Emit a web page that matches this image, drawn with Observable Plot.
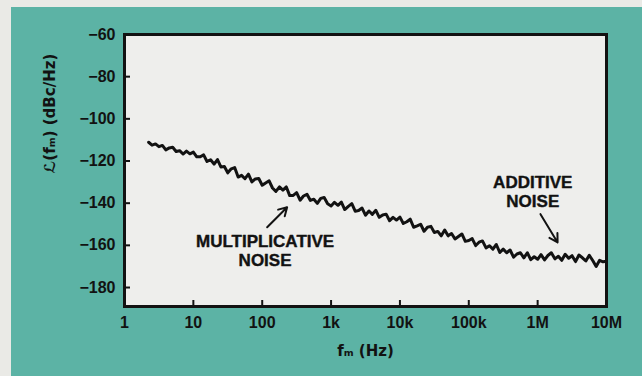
<!DOCTYPE html>
<html>
<head>
<meta charset="utf-8">
<script src="https://cdn.jsdelivr.net/npm/d3@7"></script>
<script src="https://cdn.jsdelivr.net/npm/@observablehq/plot@0.6"></script>
<style>
  html, body { margin: 0; padding: 0; background: #eaeae6; width: 642px; height: 376px; overflow: hidden; }
  #panel { position: absolute; left: 11px; top: 7px; width: 631px; height: 369px; background: #5cb3a5; }
  #chart { position: absolute; left: 0; top: 0; }
</style>
</head>
<body>
<div id="panel"></div>
<div id="chart"></div>
<script>
// Offset frequency (Hz)
const freqHz = [
  2.24,2.51,2.82,3.16,3.55,3.98,4.47,5.01,5.62,6.31,7.08,7.94,8.91,
  10,11.2,12.6,14.1,15.8,17.8,20,22.4,25.1,28.2,31.6,35.5,39.8,44.7,50.1,56.2,63.1,70.8,79.4,89.1,
  100,112,126,141,158,178,200,224,251,282,316,355,398,447,501,562,631,708,794,891,
  1e3,1.12e3,1.26e3,1.41e3,1.58e3,1.78e3,2e3,2.24e3,2.51e3,2.82e3,3.16e3,3.55e3,3.98e3,4.47e3,5.01e3,5.62e3,6.31e3,7.08e3,7.94e3,8.91e3,
  1e4,1.12e4,1.26e4,1.41e4,1.58e4,1.78e4,2e4,2.24e4,2.51e4,2.82e4,3.16e4,3.55e4,3.98e4,4.47e4,5.01e4,5.62e4,6.31e4,7.08e4,7.94e4,8.91e4,
  1e5,1.12e5,1.26e5,1.41e5,1.58e5,1.78e5,2e5,2.24e5,2.51e5,2.82e5,3.16e5,3.55e5,3.98e5,4.47e5,5.01e5,5.62e5,6.31e5,7.08e5,7.94e5,8.91e5,
  1e6,1.12e6,1.26e6,1.41e6,1.58e6,1.78e6,2e6,2.24e6,2.51e6,2.82e6,3.16e6,3.55e6,3.98e6,4.47e6,5.01e6,5.62e6,6.31e6,7.08e6,7.94e6,8.91e6,
  1e7
];
// Phase noise L(fm) (dBc/Hz)
const noiseDbc = [
  -111.1,-112.5,-111.9,-113.2,-112.6,-114.7,-113.8,-113.5,-115.5,-115.1,-116.7,-115.3,-116.6,
  -115.8,-118.0,-118.0,-117.1,-120.2,-119.4,-121.5,-119.3,-122.8,-122.6,-125.6,-123.7,-123.1,-127.6,-126.8,-128.4,-126.2,-129.9,-128.5,-128.3,
  -131.5,-130.4,-129.4,-132.8,-134.4,-132.3,-133.8,-132.3,-136.4,-136.3,-135.0,-138.6,-136.6,-135.8,-138.7,-138.1,-140.1,-137.7,-137.3,-140.3,
  -141.3,-139.6,-141.0,-139.5,-143.0,-141.5,-140.2,-143.8,-143.5,-142.3,-145.7,-143.7,-145.3,-143.4,-146.7,-145.6,-145.2,-148.3,-146.7,-148.0,
  -146.6,-149.6,-148.8,-147.6,-151.4,-150.8,-150.0,-153.3,-151.4,-151.0,-153.9,-153.4,-155.5,-152.7,-155.5,-154.4,-157.0,-155.8,-154.6,-158.1,
  -157.7,-156.8,-160.1,-158.5,-157.9,-161.2,-160.2,-161.8,-159.6,-163.4,-161.8,-163.5,-162.2,-165.6,-164.1,-163.5,-165.9,-163.5,-166.8,-165.4,
  -166.6,-164.4,-166.9,-164.8,-163.5,-166.4,-165.2,-167.1,-164.2,-166.1,-164.9,-167.7,-164.6,-165.9,-167.4,-164.7,-167.2,-170.0,-167.1,-167.8,
  -167.5
];
const yTicks = [-60, -80, -100, -120, -140, -160, -180];
const xTicks = [1, 10, 100, 1e3, 1e4, 1e5, 1e6, 1e7];
const xTickLabels = ["1", "10", "100", "1k", "10k", "100k", "1M", "10M"];
const yLabel = "ℒ(fₘ) (dBc/Hz)";
const xLabel = "fₘ (Hz)";
const noteText = ["MULTIPLICATIVE\nNOISE", "ADDITIVE\nNOISE"];
const noteFreq = [110, 8.5e5];
const noteDb = [-162.2, -134.5];
const arrowFreq1 = [118, 1.1e6];
const arrowDb1 = [-151.4, -145.2];
const arrowFreq2 = [230, 1.95e6];
const arrowDb2 = [-141.9, -158.6];

const data = freqHz.map((f, i) => ({f, db: noiseDbc[i]}));
const notes = noteText.map((t, i) => ({t, f: noteFreq[i], db: noteDb[i]}));
const arrows = arrowFreq1.map((f, i) => ({x1: f, y1: arrowDb1[i], x2: arrowFreq2[i], y2: arrowDb2[i]}));

const W = 642, H = 376, mL = 124, mR = 36, mT = 34, mB = 70;
const innerW = W - mL - mR, innerH = H - mT - mB;
const ink = "#121212";

const chart = Plot.plot({
  width: W, height: H,
  marginLeft: mL, marginRight: mR, marginTop: mT, marginBottom: mB,
  x: {type: "log", domain: [1, 1e7]},
  y: {domain: [-189, -60]},
  style: {background: "transparent", fontFamily: "'Liberation Sans', Arial, sans-serif", fontSize: "16px", fontWeight: "bold", color: ink},
  marks: [
    Plot.frame({fill: "#eeeeec"}),
    Plot.line(data, {x: "f", y: "db", stroke: ink, strokeWidth: 3, strokeLinejoin: "round"}),
    Plot.tickY(yTicks.slice(1), {y: d => d, insetRight: innerW - 6, stroke: ink, strokeWidth: 2}),
    Plot.tickX(xTicks.slice(1, -1), {x: d => d, insetTop: innerH - 6, stroke: ink, strokeWidth: 2}),
    Plot.axisY({ticks: yTicks, tickSize: 0, tickPadding: 9, label: null, fill: ink}),
    Plot.axisX({ticks: xTicks, tickSize: 0, tickPadding: 10, label: null, fill: ink,
      tickFormat: d => xTickLabels[xTicks.indexOf(d)]}),
    Plot.frame({stroke: ink, strokeWidth: 3}),
    Plot.text([yLabel], {frameAnchor: "left", rotate: -90, dx: -74, dy: 3, fill: ink, fontSize: 15, fontFamily: "'DejaVu Sans', sans-serif", fontWeight: "bold"}),
    Plot.text([xLabel], {frameAnchor: "bottom", dy: 49, fill: ink, fontSize: 15, fontFamily: "'DejaVu Sans', sans-serif", fontWeight: "bold"}),
    Plot.text(notes, {x: "f", y: "db", text: "t", fill: ink, stroke: ink, strokeWidth: 0.4, fontSize: 17, lineHeight: 1.12, fontWeight: "bold"}),
    Plot.arrow(arrows, {x1: "x1", y1: "y1", x2: "x2", y2: "y2", stroke: ink, strokeWidth: 2, headLength: 7})
  ]
});
document.getElementById("chart").appendChild(chart);
</script>
</body>
</html>
